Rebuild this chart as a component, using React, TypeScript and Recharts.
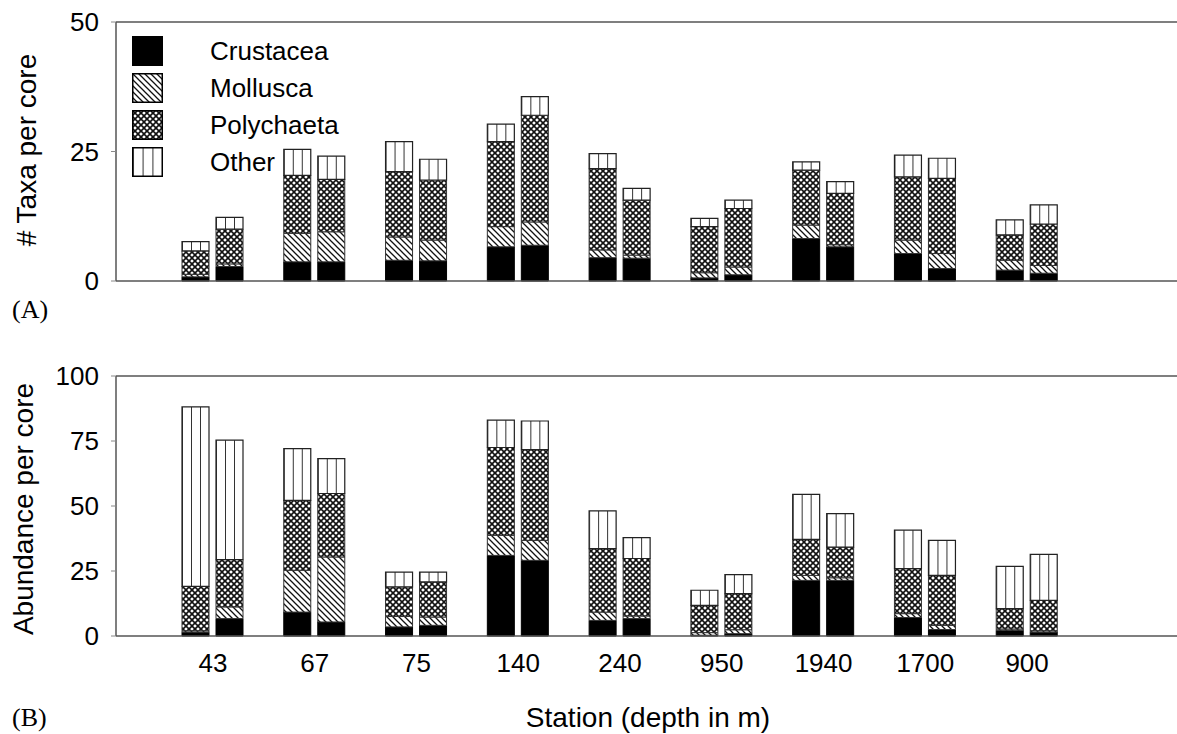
import { BarChart, Bar, XAxis, YAxis, ReferenceLine } from 'recharts'

const FONT = '"Liberation Sans", Arial, Helvetica, sans-serif'

const stations = ['43', '67', '75', '140', '240', '950', '1940', '1700', '900']

// (A) taxa per core, first core of each station
const taxaCrust1 = [0.8, 3.7, 4.0, 6.6, 4.5, 0.6, 8.2, 5.3, 2.1]
const taxaMoll1 = [0.5, 5.5, 4.5, 3.9, 1.5, 1.0, 2.6, 2.6, 1.9]
const taxaPoly1 = [4.5, 11.2, 12.6, 16.4, 15.7, 8.9, 10.6, 12.2, 4.9]
const taxaOther1 = [1.8, 5.0, 5.8, 3.4, 2.9, 1.6, 1.6, 4.2, 2.9]
// (A) second core
const taxaCrust2 = [2.8, 3.7, 3.9, 6.9, 4.4, 1.2, 6.6, 2.4, 1.5]
const taxaMoll2 = [0.5, 5.8, 4.0, 4.5, 0.6, 1.5, 0.4, 2.9, 1.5]
const taxaPoly2 = [6.7, 10.1, 11.6, 20.6, 10.6, 11.3, 9.9, 14.5, 8.0]
const taxaOther2 = [2.3, 4.5, 4.0, 3.6, 2.3, 1.6, 2.3, 3.9, 3.7]

// (B) abundance per core
const abunCrust1 = [1.5, 9.2, 3.5, 31.0, 6.0, 0.3, 21.4, 7.1, 2.2]
const abunMoll1 = [0.5, 16.1, 4.0, 7.7, 3.2, 1.0, 1.9, 1.5, 0.5]
const abunPoly1 = [17.1, 26.9, 11.4, 33.8, 24.4, 10.5, 13.9, 17.3, 7.8]
const abunOther1 = [69.0, 19.9, 5.7, 10.5, 14.5, 5.8, 17.3, 14.8, 16.3]
const abunCrust2 = [6.7, 5.4, 4.1, 29.1, 6.7, 0.9, 21.4, 2.5, 1.5]
const abunMoll2 = [4.5, 25.0, 3.2, 7.7, 1.0, 1.5, 1.0, 1.6, 0.5]
const abunPoly2 = [18.2, 24.4, 13.5, 34.9, 22.1, 13.9, 11.8, 19.2, 11.7]
const abunOther2 = [45.9, 13.4, 3.8, 11.0, 8.0, 7.3, 12.9, 13.5, 17.7]

const taxaTicks = [0, 25, 50]
const abunTicks = [0, 25, 50, 75, 100]

const legendItems = [
  { name: 'Crustacea', fill: '#000' },
  { name: 'Mollusca', fill: 'url(#moll)' },
  { name: 'Polychaeta', fill: 'url(#poly)' },
  { name: 'Other', fill: 'url(#other)' },
]

function rows(series: number[][]) {
  const [c1, m1, p1, o1, c2, m2, p2, o2] = series
  return stations.map((station, i) => ({
    station,
    c1: c1[i], m1: m1[i], p1: p1[i], o1: o1[i],
    c2: c2[i], m2: m2[i], p2: p2[i], o2: o2[i],
  }))
}

const taxaRows = rows([taxaCrust1, taxaMoll1, taxaPoly1, taxaOther1, taxaCrust2, taxaMoll2, taxaPoly2, taxaOther2])
const abunRows = rows([abunCrust1, abunMoll1, abunPoly1, abunOther1, abunCrust2, abunMoll2, abunPoly2, abunOther2])

function Patterns() {
  return (
    <svg width={0} height={0} style={{ position: 'absolute' }}>
      <defs>
        <pattern id="moll" patternUnits="userSpaceOnUse" width={6} height={6}>
          <rect width={6} height={6} fill="#fff" />
          <path d="M0,0 L6,6 M-3,3 L3,9 M3,-3 L9,3" stroke="#111" strokeWidth={1.3} />
        </pattern>
        <pattern id="poly" patternUnits="userSpaceOnUse" width={6} height={6}>
          <rect width={6} height={6} fill="#fff" />
          <path d="M0,0 L6,6 M6,0 L0,6" stroke="#111" strokeWidth={1.6} />
        </pattern>
        <pattern id="other" patternUnits="objectBoundingBox" x={0} y={0} width={1 / 3} height={1}>
          <rect width={100} height={2000} fill="#fff" />
          <rect width={1} height={2000} fill="#333" />
        </pattern>
      </defs>
    </svg>
  )
}

function bars(key: string, stack: string) {
  return [
    <Bar key={'c' + key} dataKey={'c' + key} stackId={stack} fill="#000" stroke="#000" strokeWidth={1} isAnimationActive={false} />,
    <Bar key={'m' + key} dataKey={'m' + key} stackId={stack} fill="url(#moll)" stroke="#333" strokeWidth={1} isAnimationActive={false} />,
    <Bar key={'p' + key} dataKey={'p' + key} stackId={stack} fill="url(#poly)" stroke="#333" strokeWidth={1} isAnimationActive={false} />,
    <Bar key={'o' + key} dataKey={'o' + key} stackId={stack} fill="url(#other)" stroke="#222" strokeWidth={1.2} isAnimationActive={false} />,
  ]
}

const tickStyle = { fontSize: 26, fill: '#000', fontFamily: FONT }

function Panel({ data, max, ticks, showX, top, height, marginTop, marginBottom }: {
  data: any[]; max: number; ticks: number[]; showX: boolean
  top: number; height: number; marginTop: number; marginBottom: number
}) {
  return (
    <div style={{ position: 'absolute', left: 0, top, width: 1177, height }}>
      <BarChart
        width={1177}
        height={height}
        data={data}
        margin={{ top: marginTop, right: 0, left: 36, bottom: marginBottom }}
        barSize={27}
        barGap={7}
      >
        <XAxis
          dataKey="station"
          padding={{ left: 46, right: 99 }}
          axisLine={{ stroke: '#555', strokeWidth: 1.5 }}
          tickLine={false}
          tickSize={0}
          tickMargin={18}
          tick={showX ? tickStyle : false}
          height={showX ? 50 : 1}
          interval={0}
        />
        <YAxis
          type="number"
          domain={[0, max]}
          ticks={ticks}
          width={80}
          axisLine={{ stroke: '#555', strokeWidth: 1.5 }}
          tickLine={{ stroke: '#888' }}
          tickSize={5}
          tickMargin={12}
          tick={tickStyle}
        />
        <ReferenceLine y={max} stroke="#555" strokeWidth={1.5} />
        {bars('1', 'a')}
        {bars('2', 'b')}
      </BarChart>
    </div>
  )
}

const textBase: React.CSSProperties = { position: 'absolute', whiteSpace: 'nowrap', color: '#000', lineHeight: 1 }

function VTitle({ x, y, text }: { x: number; y: number; text: string }) {
  return (
    <div style={{ ...textBase, left: x, top: y, fontFamily: FONT, fontSize: 28, transform: 'translate(-50%, -50%) rotate(-90deg)' }}>
      {text}
    </div>
  )
}

export default function App() {
  return (
    <div style={{ position: 'absolute', left: 0, top: 0, width: 1177, height: 734, background: '#fff', overflow: 'hidden' }}>
      <Patterns />
      <Panel data={taxaRows} max={50} ticks={taxaTicks} showX={false} top={0} height={300} marginTop={22} marginBottom={18} />
      <Panel data={abunRows} max={100} ticks={abunTicks} showX={true} top={350} height={384} marginTop={26} marginBottom={48} />

      {legendItems.map((item, i) => (
        <div key={item.name}>
          <svg style={{ position: 'absolute', left: 132, top: 36 + i * 37 }} width={31} height={30}>
            <rect x={0.75} y={0.75} width={29.5} height={28.5} fill={item.fill} stroke="#000" strokeWidth={1.5} />
          </svg>
          <div style={{ ...textBase, left: 210, top: 51 + i * 37, transform: 'translateY(-50%)', fontFamily: FONT, fontSize: 26 }}>
            {item.name}
          </div>
        </div>
      ))}

      <VTitle x={27} y={150} text="# Taxa per core" />
      <VTitle x={24} y={509} text="Abundance per core" />
      <div style={{ ...textBase, left: 648, top: 718, transform: 'translate(-50%, -50%)', fontFamily: FONT, fontSize: 28 }}>
        Station (depth in m)
      </div>
      <div style={{ ...textBase, left: 12, top: 310, transform: 'translateY(-50%)', fontFamily: '"Liberation Serif", "Times New Roman", serif', fontSize: 26 }}>
        (A)
      </div>
      <div style={{ ...textBase, left: 12, top: 718, transform: 'translateY(-50%)', fontFamily: '"Liberation Serif", "Times New Roman", serif', fontSize: 26 }}>
        (B)
      </div>
    </div>
  )
}
